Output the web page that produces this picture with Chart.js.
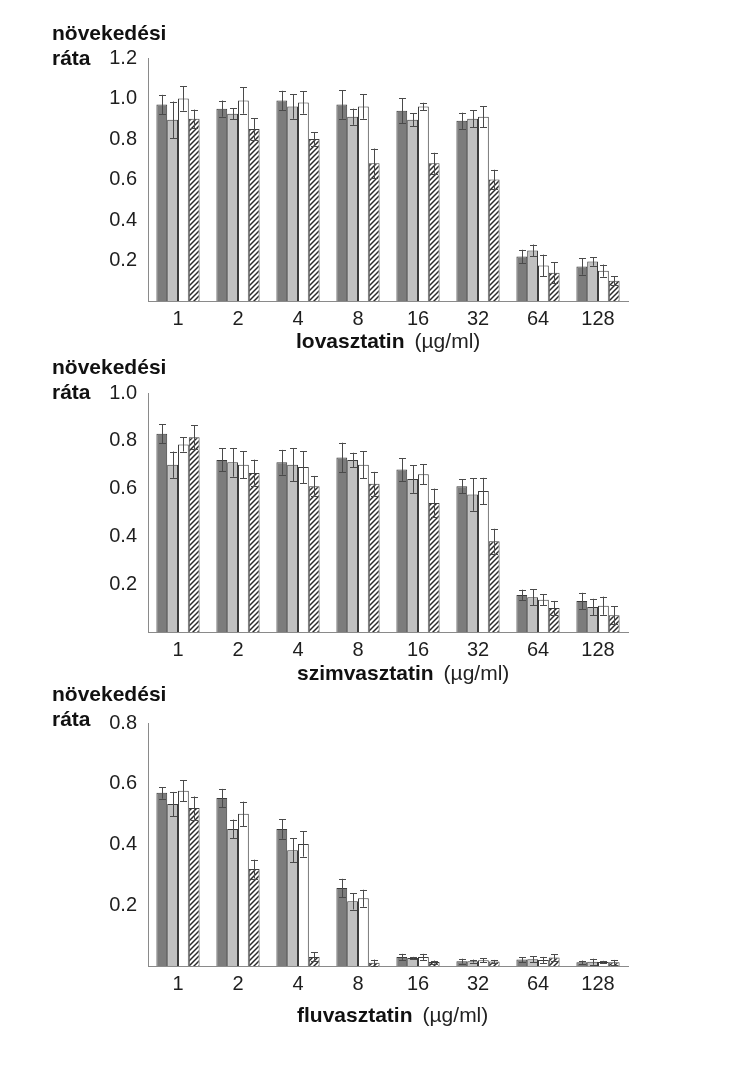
<!DOCTYPE html>
<html>
<head>
<meta charset="utf-8">
<script src="https://cdn.jsdelivr.net/npm/chart.js@4.4.1/dist/chart.umd.min.js"></script>
<style>
  html, body { margin: 0; padding: 0; background: #fff; }
  #wrap { position: relative; width: 746px; height: 1077px; }
  canvas { position: absolute; left: 0; top: 0; }
</style>
</head>
<body>
<div id="wrap">
  <canvas id="c1" width="746" height="1077"></canvas>
  <canvas id="c2" width="746" height="1077"></canvas>
  <canvas id="c3" width="746" height="1077"></canvas>
</div>
<script>
// ---------- DATA ----------
const categories = ['1', '2', '4', '8', '16', '32', '64', '128'];

// lovasztatin
const lovaS1 = [0.97, 0.95, 0.99, 0.97, 0.94, 0.89, 0.22, 0.17];
const lovaS2 = [0.895, 0.925, 0.96, 0.91, 0.895, 0.90, 0.25, 0.195];
const lovaS3 = [1.0, 0.99, 0.98, 0.96, 0.96, 0.91, 0.175, 0.15];
const lovaS4 = [0.90, 0.85, 0.80, 0.68, 0.68, 0.60, 0.14, 0.10];
const lovaE1 = [0.048, 0.04, 0.048, 0.07, 0.062, 0.04, 0.033, 0.04];
const lovaE2 = [0.09, 0.028, 0.06, 0.04, 0.032, 0.041, 0.029, 0.021];
const lovaE3 = [0.06, 0.065, 0.055, 0.06, 0.019, 0.052, 0.054, 0.03];
const lovaE4 = [0.045, 0.053, 0.034, 0.073, 0.052, 0.048, 0.052, 0.022];

// szimvasztatin
const szimS1 = [0.83, 0.72, 0.71, 0.73, 0.68, 0.61, 0.155, 0.13];
const szimS2 = [0.70, 0.71, 0.70, 0.72, 0.64, 0.575, 0.145, 0.105];
const szimS3 = [0.785, 0.70, 0.69, 0.70, 0.66, 0.59, 0.135, 0.11];
const szimS4 = [0.815, 0.665, 0.61, 0.62, 0.54, 0.38, 0.10, 0.07];
const szimE1 = [0.04, 0.048, 0.052, 0.062, 0.048, 0.03, 0.022, 0.034];
const szimE2 = [0.055, 0.06, 0.07, 0.03, 0.058, 0.068, 0.033, 0.034];
const szimE3 = [0.03, 0.057, 0.067, 0.057, 0.042, 0.055, 0.022, 0.038];
const szimE4 = [0.051, 0.056, 0.043, 0.05, 0.06, 0.052, 0.03, 0.037];

// fluvasztatin
const fluvS1 = [0.57, 0.553, 0.451, 0.257, 0.03, 0.016, 0.021, 0.012];
const fluvS2 = [0.533, 0.451, 0.381, 0.213, 0.026, 0.016, 0.022, 0.014];
const fluvS3 = [0.577, 0.501, 0.402, 0.223, 0.03, 0.019, 0.02, 0.013];
const fluvS4 = [0.52, 0.319, 0.03, 0.011, 0.013, 0.015, 0.028, 0.012];
const fluvE1 = [0.019, 0.03, 0.032, 0.03, 0.01, 0.008, 0.008, 0.006];
const fluvE2 = [0.04, 0.031, 0.04, 0.027, 0.004, 0.005, 0.01, 0.01];
const fluvE3 = [0.035, 0.04, 0.042, 0.028, 0.01, 0.006, 0.01, 0.004];
const fluvE4 = [0.038, 0.031, 0.015, 0.01, 0.005, 0.005, 0.01, 0.008];

const yMaxLova = 1.2, yMaxSzim = 1.0, yMaxFluv = 0.8;
const yLabelLine1 = 'növekedési';
const yLabelLine2 = 'ráta';
const unitText = '(µg/ml)';

// ---------- STYLE ----------
const FONT = "'Liberation Sans', Arial, Helvetica, sans-serif";
const C_DARK = '#7c7c7c', C_LIGHT = '#c0c0c0', C_WHITE = '#ffffff';
const C_BORDER = '#3c3c3c';

function hatchPattern() {
  const s = 5;
  const c = document.createElement('canvas');
  c.width = s; c.height = s;
  const x = c.getContext('2d');
  x.fillStyle = '#ffffff';
  x.fillRect(0, 0, s, s);
  x.strokeStyle = '#2a2a2a';
  x.lineWidth = 1.5;
  x.beginPath();
  x.moveTo(0, s); x.lineTo(s, 0);
  x.moveTo(-1, 1); x.lineTo(1, -1);
  x.moveTo(s - 1, s + 1); x.lineTo(s + 1, s - 1);
  x.stroke();
  return document.createElement('canvas').getContext('2d').createPattern(c, 'repeat');
}

const errorBarPlugin = {
  id: 'errorBars',
  afterDatasetsDraw(chart) {
    const ctx = chart.ctx;
    const ys = chart.scales.y;
    ctx.save();
    ctx.strokeStyle = '#4a4a4a';
    ctx.lineWidth = 1;
    chart.data.datasets.forEach((ds, i) => {
      const meta = chart.getDatasetMeta(i);
      meta.data.forEach((el, j) => {
        const v = ds.data[j], e = ds.errors[j];
        const x = Math.round(el.x) + 0.5;
        const yt = ys.getPixelForValue(v + e);
        const yb = ys.getPixelForValue(Math.max(0, v - e));
        ctx.beginPath();
        ctx.moveTo(x, yt); ctx.lineTo(x, yb);
        ctx.moveTo(x - 3.5, Math.round(yt) + 0.5); ctx.lineTo(x + 3.5, Math.round(yt) + 0.5);
        ctx.moveTo(x - 3.5, Math.round(yb) + 0.5); ctx.lineTo(x + 3.5, Math.round(yb) + 0.5);
        ctx.stroke();
      });
    });
    ctx.restore();
  }
};

const textPlugin = {
  id: 'panelTexts',
  afterDraw(chart, args, opts) {
    const ctx = chart.ctx;
    ctx.save();
    ctx.fillStyle = '#111';
    ctx.textBaseline = 'alphabetic';
    ctx.textAlign = 'left';
    ctx.font = 'bold 21px ' + FONT;
    ctx.fillText(yLabelLine1, 52, opts.line1Y);
    ctx.fillText(yLabelLine2, 52, opts.line2Y);
    // axis title: bold drug name + regular unit
    ctx.font = 'bold 21px ' + FONT;
    ctx.fillText(opts.drug, opts.titleX, opts.titleY);
    const w = ctx.measureText(opts.drug).width;
    ctx.font = '21px ' + FONT;
    ctx.fillStyle = '#222';
    ctx.fillText(unitText, opts.titleX + w + 10, opts.titleY);
    ctx.restore();
  }
};

function makePanel(canvasId, series, errors, yMax, top, bottom, texts) {
  const ctx = document.getElementById(canvasId).getContext('2d');
  const hatch = hatchPattern();
  const fills = [C_DARK, C_LIGHT, C_WHITE, hatch];
  const datasets = series.map((s, i) => ({
    label: 'S' + (i + 1),
    data: s,
    errors: errors[i],
    backgroundColor: fills[i],
    borderColor: C_BORDER,
    borderWidth: 1,
    barPercentage: 1.0,
    categoryPercentage: 0.72
  }));
  const Y_W = 60, X_H = 40;
  return new Chart(ctx, {
    type: 'bar',
    data: { labels: categories, datasets },
    options: {
      responsive: false,
      animation: false,
      devicePixelRatio: 1,
      events: [],
      layout: {
        padding: { left: 148 - Y_W, right: 746 - 628, top: top, bottom: 1077 - bottom - X_H }
      },
      plugins: {
        legend: { display: false },
        tooltip: { enabled: false },
        panelTexts: texts
      },
      scales: {
        x: {
          grid: { display: false, drawTicks: false },
          border: { display: true, color: '#8a8a8a', width: 1 },
          ticks: { color: '#1e1e1e', font: { family: FONT, size: 20 }, padding: 6, maxRotation: 0 },
          afterFit(scale) { scale.height = X_H; }
        },
        y: {
          min: 0, max: yMax,
          grid: { display: false, drawTicks: false },
          border: { display: true, color: '#8a8a8a', width: 1 },
          ticks: {
            stepSize: 0.2,
            color: '#1e1e1e',
            font: { family: FONT, size: 20 },
            padding: 11,
            callback: (v) => (Math.abs(v) < 1e-9 ? '' : Number(v).toFixed(1))
          },
          afterFit(scale) { scale.width = Y_W; }
        }
      }
    },
    plugins: [errorBarPlugin, textPlugin]
  });
}

makePanel('c1', [lovaS1, lovaS2, lovaS3, lovaS4], [lovaE1, lovaE2, lovaE3, lovaE4], yMaxLova, 58, 301,
  { line1Y: 40, line2Y: 65, drug: 'lovasztatin', titleX: 296, titleY: 348 });
makePanel('c2', [szimS1, szimS2, szimS3, szimS4], [szimE1, szimE2, szimE3, szimE4], yMaxSzim, 393, 632,
  { line1Y: 374, line2Y: 399, drug: 'szimvasztatin', titleX: 297, titleY: 680 });
makePanel('c3', [fluvS1, fluvS2, fluvS3, fluvS4], [fluvE1, fluvE2, fluvE3, fluvE4], yMaxFluv, 723, 966,
  { line1Y: 701, line2Y: 726, drug: 'fluvasztatin', titleX: 297, titleY: 1022 });
</script>
</body>
</html>
